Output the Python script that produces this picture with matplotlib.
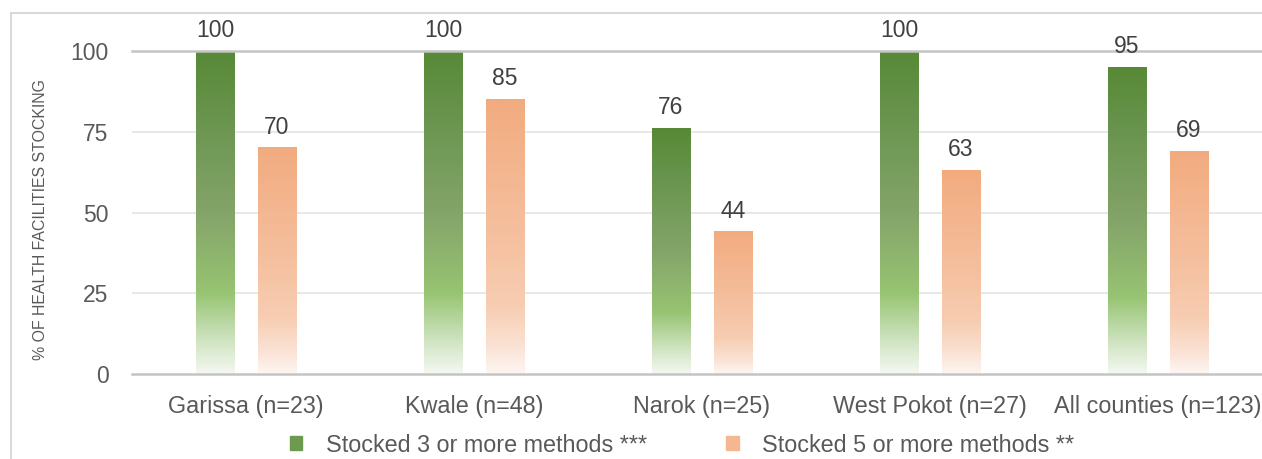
import numpy as np
import matplotlib
matplotlib.use("Agg")
import matplotlib.pyplot as plt
from matplotlib.colors import LinearSegmentedColormap
from matplotlib.patches import Rectangle

plt.rcParams['font.family'] = ['Liberation Sans', 'DejaVu Sans']

counties = ["Garissa (n=23)", "Kwale (n=48)", "Narok (n=25)",
            "West Pokot (n=27)", "All counties (n=123)"]
stocked3 = [100, 100, 76, 100, 95]
stocked5 = [70, 85, 44, 63, 69]
series_names = ["Stocked 3 or more methods ***", "Stocked 5 or more methods **"]
yticks = [0, 25, 50, 75, 100]

# gradient stops, bottom of bar -> top of bar
green_cmap = LinearSegmentedColormap.from_list("g", [
    (0.0, "#f4f8f1"), (0.10, "#d0e4c2"), (0.25, "#97c472"),
    (0.50, "#84a469"), (0.78, "#6a9550"), (1.0, "#578936")])
orange_cmap = LinearSegmentedColormap.from_list("o", [
    (0.0, "#fdf6f2"), (0.10, "#fae2d4"), (0.25, "#f7cdb2"),
    (0.50, "#f5c09f"), (1.0, "#f2ab7f")])

W, H = 1262, 459
fig = plt.figure(figsize=(W / 100, H / 100), dpi=100)
ax = fig.add_axes([132 / W, 1 - 374 / H, 1140 / W, 323 / H])

# outer chart border (cropped on right and bottom)
fig.add_artist(Rectangle((10.5 / W, -0.1), 1.2, 1.1 - 13.5 / H,
                         transform=fig.transFigure, fill=False,
                         edgecolor="#d9d9d9", lw=1.5))

x = np.arange(len(counties))
width = 0.167
offset = 0.136
grad = np.linspace(0, 1, 256).reshape(-1, 1)

for vals, cmap, off in [(stocked3, green_cmap, -offset), (stocked5, orange_cmap, offset)]:
    bars = ax.bar(x + off, vals, width, color="none", zorder=3)
    for b, v in zip(bars, vals):
        x0 = b.get_x()
        ax.imshow(grad, cmap=cmap, origin="lower", aspect="auto",
                  extent=(x0, x0 + b.get_width(), 0, v), zorder=2,
                  interpolation="bilinear")
        ax.annotate(str(v), (b.get_x() + b.get_width() / 2, v),
                    xytext=(0, 6.5), textcoords="offset points",
                    ha="center", va="bottom", fontsize=16.5,
                    color="#404040", annotation_clip=False)

ax.set_xlim(-0.5, len(counties) - 0.5)
ax.set_ylim(0, 100)
ax.set_yticks(yticks)
ax.set_xticks(x)
ax.set_xticklabels(counties)
ax.tick_params(axis="both", length=0, labelsize=16.5, colors="#595959")
ax.tick_params(axis="x", pad=15, labelsize=16.8)
ax.tick_params(axis="y", pad=17)
for yv in [25, 50, 75]:
    ax.axhline(yv, color="#e6e6e6", lw=1.3, zorder=1)
for s in ["left", "right"]:
    ax.spines[s].set_visible(False)
for s in ["top", "bottom"]:
    ax.spines[s].set_color("#c4c4c4")
    ax.spines[s].set_linewidth(1.8)

ax.set_ylabel("% OF HEALTH FACILITIES STOCKING", fontsize=11.4, color="#595959")
ax.yaxis.set_label_coords(-84 / 1140, 0.477)

handles = [Rectangle((0, 0), 1, 1, color="#6c9a4f"),
           Rectangle((0, 0), 1, 1, color="#f4b78f")]
fig.legend(handles, series_names, loc="center", bbox_to_anchor=(682 / W, 1 - 445 / H),
           ncol=2, frameon=False, fontsize=16.8, labelcolor="#595959",
           handlelength=0.55, handleheight=0.55, handletextpad=1.0,
           columnspacing=3.4)

fig.savefig("out.png", dpi=100)
